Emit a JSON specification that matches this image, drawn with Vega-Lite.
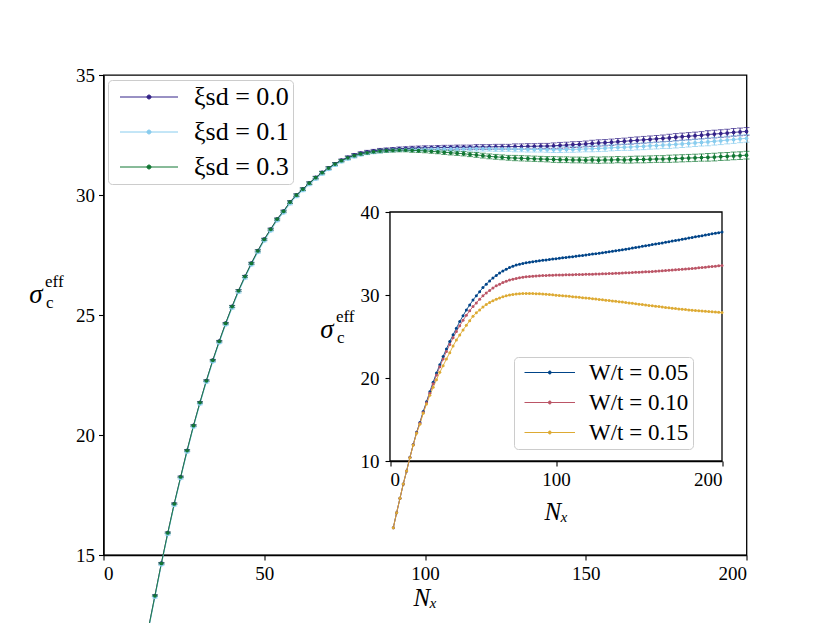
{
  "$schema": "https://vega.github.io/schema/vega-lite/v6.json",
  "width": 643,
  "height": 480,
  "autosize": "none",
  "padding": {"left": 103.5, "top": 75, "right": 83.5, "bottom": 68},
  "config": {
    "font": "Liberation Serif",
    "view": {"stroke": "black", "strokeWidth": 1.3},
    "axis": {
      "grid": false, "domainColor": "black", "domainWidth": 1.3, "tickColor": "black", "tickWidth": 1.1, "tickSize": 5,
      "labelColor": "black", "titleColor": "black", "labelFont": "Liberation Serif", "titleFont": "Liberation Serif",
      "titleFontWeight": "normal", "labelPadding": 4
    },
    "legend": {"labelFont": "Liberation Serif", "labelColor": "black", "symbolOpacity": 1}
  },
  "layer": [
    {
      "data": {"name": "main", "values": [
        {"x":12,"e":0.03,"a":10.61,"b":10.54,"c":10.6},
        {"x":14,"e":0.03,"a":11.96,"b":11.89,"c":11.95},
        {"x":16,"e":0.03,"a":13.31,"b":13.24,"c":13.3},
        {"x":18,"e":0.03,"a":14.66,"b":14.59,"c":14.65},
        {"x":20,"e":0.03,"a":15.93,"b":15.86,"c":15.92},
        {"x":22,"e":0.03,"a":17.14,"b":17.07,"c":17.13},
        {"x":24,"e":0.03,"a":18.26,"b":18.19,"c":18.25},
        {"x":26,"e":0.03,"a":19.36,"b":19.29,"c":19.35},
        {"x":28,"e":0.03,"a":20.4,"b":20.33,"c":20.39},
        {"x":30,"e":0.03,"a":21.36,"b":21.29,"c":21.35},
        {"x":32,"e":0.03,"a":22.27,"b":22.2,"c":22.26},
        {"x":34,"e":0.03,"a":23.12,"b":23.05,"c":23.11},
        {"x":36,"e":0.03,"a":23.91,"b":23.84,"c":23.9},
        {"x":38,"e":0.03,"a":24.66,"b":24.59,"c":24.65},
        {"x":40,"e":0.04,"a":25.36,"b":25.29,"c":25.35},
        {"x":42,"e":0.04,"a":26.02,"b":25.95,"c":26.01},
        {"x":44,"e":0.04,"a":26.61,"b":26.54,"c":26.6},
        {"x":46,"e":0.04,"a":27.16,"b":27.09,"c":27.15},
        {"x":48,"e":0.04,"a":27.68,"b":27.61,"c":27.67},
        {"x":50,"e":0.04,"a":28.16,"b":28.09,"c":28.15},
        {"x":52,"e":0.04,"a":28.58,"b":28.51,"c":28.57},
        {"x":54,"e":0.04,"a":29.0,"b":28.93,"c":28.99},
        {"x":56,"e":0.04,"a":29.33,"b":29.26,"c":29.32},
        {"x":58,"e":0.05,"a":29.71,"b":29.64,"c":29.7},
        {"x":60,"e":0.05,"a":30.0,"b":29.94,"c":29.99},
        {"x":62,"e":0.05,"a":30.25,"b":30.19,"c":30.24},
        {"x":64,"e":0.05,"a":30.5,"b":30.44,"c":30.49},
        {"x":66,"e":0.05,"a":30.73,"b":30.67,"c":30.72},
        {"x":68,"e":0.05,"a":30.94,"b":30.88,"c":30.93},
        {"x":70,"e":0.05,"a":31.13,"b":31.07,"c":31.12},
        {"x":72,"e":0.05,"a":31.3,"b":31.24,"c":31.29},
        {"x":74,"e":0.05,"a":31.45,"b":31.39,"c":31.43},
        {"x":76,"e":0.06,"a":31.57,"b":31.51,"c":31.55},
        {"x":78,"e":0.06,"a":31.67,"b":31.6,"c":31.64},
        {"x":80,"e":0.06,"a":31.74,"b":31.68,"c":31.71},
        {"x":82,"e":0.06,"a":31.8,"b":31.74,"c":31.76},
        {"x":84,"e":0.06,"a":31.84,"b":31.78,"c":31.8},
        {"x":86,"e":0.07,"a":31.87,"b":31.82,"c":31.83},
        {"x":88,"e":0.07,"a":31.89,"b":31.85,"c":31.85},
        {"x":90,"e":0.07,"a":31.91,"b":31.87,"c":31.86},
        {"x":92,"e":0.07,"a":31.93,"b":31.88,"c":31.87},
        {"x":94,"e":0.07,"a":31.94,"b":31.89,"c":31.87},
        {"x":96,"e":0.08,"a":31.95,"b":31.9,"c":31.86},
        {"x":98,"e":0.08,"a":31.96,"b":31.9,"c":31.85},
        {"x":100,"e":0.08,"a":31.97,"b":31.91,"c":31.84},
        {"x":102,"e":0.08,"a":31.97,"b":31.91,"c":31.82},
        {"x":104,"e":0.08,"a":31.98,"b":31.92,"c":31.8},
        {"x":106,"e":0.09,"a":31.98,"b":31.92,"c":31.78},
        {"x":108,"e":0.09,"a":31.98,"b":31.92,"c":31.76},
        {"x":110,"e":0.09,"a":31.99,"b":31.92,"c":31.74},
        {"x":112,"e":0.09,"a":31.99,"b":31.92,"c":31.72},
        {"x":114,"e":0.09,"a":31.99,"b":31.93,"c":31.69},
        {"x":116,"e":0.1,"a":32.0,"b":31.93,"c":31.67},
        {"x":118,"e":0.1,"a":32.0,"b":31.93,"c":31.64},
        {"x":120,"e":0.1,"a":32.0,"b":31.93,"c":31.61},
        {"x":122,"e":0.1,"a":32.01,"b":31.92,"c":31.59},
        {"x":124,"e":0.1,"a":32.01,"b":31.92,"c":31.57},
        {"x":126,"e":0.1,"a":32.01,"b":31.92,"c":31.55},
        {"x":128,"e":0.11,"a":32.02,"b":31.91,"c":31.54},
        {"x":130,"e":0.11,"a":32.02,"b":31.91,"c":31.53},
        {"x":132,"e":0.11,"a":32.03,"b":31.9,"c":31.52},
        {"x":134,"e":0.11,"a":32.03,"b":31.9,"c":31.51},
        {"x":136,"e":0.11,"a":32.04,"b":31.9,"c":31.5},
        {"x":138,"e":0.11,"a":32.04,"b":31.89,"c":31.49},
        {"x":140,"e":0.12,"a":32.05,"b":31.89,"c":31.48},
        {"x":142,"e":0.12,"a":32.07,"b":31.89,"c":31.47},
        {"x":144,"e":0.12,"a":32.08,"b":31.9,"c":31.47},
        {"x":146,"e":0.12,"a":32.1,"b":31.9,"c":31.46},
        {"x":148,"e":0.12,"a":32.11,"b":31.91,"c":31.46},
        {"x":150,"e":0.12,"a":32.13,"b":31.92,"c":31.45},
        {"x":152,"e":0.13,"a":32.15,"b":31.93,"c":31.46},
        {"x":154,"e":0.13,"a":32.17,"b":31.94,"c":31.45},
        {"x":156,"e":0.13,"a":32.18,"b":31.95,"c":31.46},
        {"x":158,"e":0.13,"a":32.2,"b":31.97,"c":31.46},
        {"x":160,"e":0.13,"a":32.22,"b":31.98,"c":31.47},
        {"x":162,"e":0.13,"a":32.24,"b":31.99,"c":31.46},
        {"x":164,"e":0.14,"a":32.26,"b":32.0,"c":31.47},
        {"x":166,"e":0.14,"a":32.28,"b":32.02,"c":31.48},
        {"x":168,"e":0.14,"a":32.3,"b":32.03,"c":31.48},
        {"x":170,"e":0.14,"a":32.32,"b":32.05,"c":31.49},
        {"x":172,"e":0.14,"a":32.34,"b":32.06,"c":31.5},
        {"x":174,"e":0.14,"a":32.36,"b":32.08,"c":31.5},
        {"x":176,"e":0.15,"a":32.38,"b":32.09,"c":31.51},
        {"x":178,"e":0.15,"a":32.41,"b":32.11,"c":31.52},
        {"x":180,"e":0.15,"a":32.43,"b":32.13,"c":31.53},
        {"x":182,"e":0.15,"a":32.45,"b":32.15,"c":31.54},
        {"x":184,"e":0.15,"a":32.47,"b":32.17,"c":31.55},
        {"x":186,"e":0.15,"a":32.49,"b":32.19,"c":31.56},
        {"x":188,"e":0.16,"a":32.52,"b":32.21,"c":31.57},
        {"x":190,"e":0.16,"a":32.54,"b":32.24,"c":31.58},
        {"x":192,"e":0.16,"a":32.56,"b":32.26,"c":31.6},
        {"x":194,"e":0.16,"a":32.58,"b":32.29,"c":31.61},
        {"x":196,"e":0.16,"a":32.61,"b":32.31,"c":31.63},
        {"x":198,"e":0.16,"a":32.63,"b":32.34,"c":31.64},
        {"x":200,"e":0.16,"a":32.65,"b":32.36,"c":31.66}
      ]},
      "transform": [{"fold": ["a", "b", "c"], "as": ["s", "y"]}],
      "layer": [
        {
          "mark": {"type": "errorbar", "ticks": {"size": 6}, "thickness": 1},
          "encoding": {
            "x": {"field": "x", "type": "quantitative", "title": "Nₓ", "scale": {"domain": [0, 200], "nice": false}},
            "y": {"field": "y", "type": "quantitative", "title": null, "scale": {"domain": [15, 35], "nice": false, "zero": false}},
            "yError": {"field": "e"},
            "color": {"field": "s", "type": "nominal", "scale": {"domain": ["a", "b", "c"], "range": ["#332288", "#88CCEE", "#117733"]}}
          }
        },
        {
          "mark": {"type": "line", "strokeWidth": 0.9, "point": {"filled": true, "size": 14}},
          "encoding": {
            "x": {"field": "x", "type": "quantitative", "title": "Nₓ", "scale": {"domain": [0, 200], "nice": false},
              "axis": {"values": [0, 50, 100, 150, 200], "labelFont": "Liberation Serif", "labelFontSize": 19, "titleFont": "Liberation Serif", "titleFontSize": 25, "titleFontStyle": "italic", "titlePadding": 2}},
            "y": {"field": "y", "type": "quantitative", "title": null, "scale": {"domain": [15, 35], "nice": false, "zero": false},
              "axis": {"values": [15, 20, 25, 30, 35], "labelFont": "Liberation Serif", "labelFontSize": 19}},
            "color": {"field": "s", "type": "nominal", "scale": {"domain": ["a", "b", "c"], "range": ["#332288", "#88CCEE", "#117733"]},
              "legend": {
                "title": null, "orient": "none", "legendX": 4.5, "legendY": 5,
                "labelExpr": "datum.label == 'a' ? 'ξsd = 0.0' : datum.label == 'b' ? 'ξsd = 0.1' : 'ξsd = 0.3'",
                "labelFont": "Liberation Serif", "labelFontSize": 26, "labelOffset": 56, "rowPadding": 9,
                "symbolType": "M-1,0L10.6,0M4.4,0A0.4,0.4,0,1,0,5.2,0A0.4,0.4,0,1,0,4.4,0",
                "symbolSize": 100, "symbolStrokeWidth": 1, "symbolOpacity": 1,
                "fillColor": "white", "strokeColor": "#cccccc", "cornerRadius": 4, "padding": 4
              }}
          }
        },
        {
          "data": {"values": [{}]},
          "mark": {"type": "text", "text": "σ", "font": "Liberation Serif", "fontStyle": "italic", "fontSize": 27, "align": "center", "baseline": "alphabetic", "color": "black"},
          "encoding": {"x": {"datum": -21, "type": "quantitative"}, "y": {"datum": 25.5, "type": "quantitative"}}
        },
        {
          "data": {"values": [{}]},
          "mark": {"type": "text", "text": "eff", "font": "Liberation Serif", "fontSize": 17, "align": "left", "baseline": "alphabetic", "dx": 9, "dy": -16, "color": "black"},
          "encoding": {"x": {"datum": -21, "type": "quantitative"}, "y": {"datum": 25.5, "type": "quantitative"}}
        },
        {
          "data": {"values": [{}]},
          "mark": {"type": "text", "text": "c", "font": "Liberation Serif", "fontSize": 17, "align": "left", "baseline": "alphabetic", "dx": 10, "dy": 5, "color": "black"},
          "encoding": {"x": {"datum": -21, "type": "quantitative"}, "y": {"datum": 25.5, "type": "quantitative"}}
        }
      ]
    },
    {
      "data": {"name": "inset", "values": [
        {"x":2,"a":1.97,"b":1.97,"c":1.97},
        {"x":4,"a":3.77,"b":3.77,"c":3.77},
        {"x":6,"a":5.5,"b":5.5,"c":5.5},
        {"x":8,"a":7.23,"b":7.23,"c":7.23},
        {"x":10,"a":8.8,"b":8.8,"c":8.8},
        {"x":12,"a":10.45,"b":10.42,"c":10.4},
        {"x":14,"a":11.98,"b":11.95,"c":11.93},
        {"x":16,"a":13.45,"b":13.39,"c":13.33},
        {"x":18,"a":14.65,"b":14.56,"c":14.42},
        {"x":20,"a":15.95,"b":15.83,"c":15.74},
        {"x":22,"a":17.15,"b":17.02,"c":16.87},
        {"x":24,"a":18.35,"b":18.17,"c":17.91},
        {"x":26,"a":19.5,"b":19.3,"c":18.88},
        {"x":28,"a":20.6,"b":20.35,"c":19.8},
        {"x":30,"a":21.6,"b":21.35,"c":20.68},
        {"x":32,"a":22.6,"b":22.3,"c":21.48},
        {"x":34,"a":23.5,"b":23.2,"c":22.29},
        {"x":36,"a":24.4,"b":24.05,"c":23.05},
        {"x":38,"a":25.2,"b":24.85,"c":23.86},
        {"x":40,"a":26.0,"b":25.6,"c":24.58},
        {"x":42,"a":26.8,"b":26.3,"c":25.18},
        {"x":44,"a":27.5,"b":26.95,"c":25.78},
        {"x":46,"a":28.2,"b":27.55,"c":26.35},
        {"x":48,"a":28.8,"b":28.1,"c":26.9},
        {"x":50,"a":29.4,"b":28.6,"c":27.45},
        {"x":52,"a":29.9,"b":29.05,"c":27.85},
        {"x":54,"a":30.4,"b":29.5,"c":28.2},
        {"x":56,"a":30.9,"b":29.9,"c":28.55},
        {"x":58,"a":31.3,"b":30.25,"c":28.85},
        {"x":60,"a":31.7,"b":30.55,"c":29.1},
        {"x":62,"a":32.05,"b":30.85,"c":29.3},
        {"x":64,"a":32.35,"b":31.1,"c":29.5},
        {"x":66,"a":32.65,"b":31.3,"c":29.65},
        {"x":68,"a":32.9,"b":31.5,"c":29.78},
        {"x":70,"a":33.1,"b":31.65,"c":29.9},
        {"x":72,"a":33.3,"b":31.8,"c":30.0},
        {"x":74,"a":33.45,"b":31.9,"c":30.07},
        {"x":76,"a":33.6,"b":32.0,"c":30.12},
        {"x":78,"a":33.7,"b":32.08,"c":30.16},
        {"x":80,"a":33.8,"b":32.15,"c":30.18},
        {"x":82,"a":33.88,"b":32.2,"c":30.19},
        {"x":84,"a":33.95,"b":32.24,"c":30.19},
        {"x":86,"a":34.02,"b":32.27,"c":30.18},
        {"x":88,"a":34.08,"b":32.3,"c":30.16},
        {"x":90,"a":34.13,"b":32.32,"c":30.14},
        {"x":92,"a":34.18,"b":32.34,"c":30.12},
        {"x":94,"a":34.23,"b":32.35,"c":30.09},
        {"x":96,"a":34.28,"b":32.37,"c":30.06},
        {"x":98,"a":34.33,"b":32.38,"c":30.02},
        {"x":100,"a":34.38,"b":32.4,"c":29.98},
        {"x":102,"a":34.43,"b":32.41,"c":29.95},
        {"x":104,"a":34.48,"b":32.42,"c":29.91},
        {"x":106,"a":34.53,"b":32.43,"c":29.88},
        {"x":108,"a":34.58,"b":32.44,"c":29.84},
        {"x":110,"a":34.62,"b":32.45,"c":29.8},
        {"x":112,"a":34.67,"b":32.46,"c":29.76},
        {"x":114,"a":34.72,"b":32.47,"c":29.72},
        {"x":116,"a":34.77,"b":32.48,"c":29.68},
        {"x":118,"a":34.82,"b":32.49,"c":29.64},
        {"x":120,"a":34.88,"b":32.5,"c":29.6},
        {"x":122,"a":34.93,"b":32.51,"c":29.56},
        {"x":124,"a":34.98,"b":32.53,"c":29.51},
        {"x":126,"a":35.03,"b":32.54,"c":29.47},
        {"x":128,"a":35.09,"b":32.55,"c":29.42},
        {"x":130,"a":35.15,"b":32.57,"c":29.38},
        {"x":132,"a":35.21,"b":32.58,"c":29.33},
        {"x":134,"a":35.27,"b":32.6,"c":29.29},
        {"x":136,"a":35.33,"b":32.61,"c":29.24},
        {"x":138,"a":35.39,"b":32.63,"c":29.2},
        {"x":140,"a":35.45,"b":32.65,"c":29.15},
        {"x":142,"a":35.52,"b":32.67,"c":29.1},
        {"x":144,"a":35.58,"b":32.69,"c":29.05},
        {"x":146,"a":35.65,"b":32.71,"c":29.0},
        {"x":148,"a":35.72,"b":32.73,"c":28.95},
        {"x":150,"a":35.79,"b":32.75,"c":28.9},
        {"x":152,"a":35.86,"b":32.77,"c":28.85},
        {"x":154,"a":35.93,"b":32.79,"c":28.8},
        {"x":156,"a":36.0,"b":32.81,"c":28.75},
        {"x":158,"a":36.07,"b":32.83,"c":28.7},
        {"x":160,"a":36.14,"b":32.85,"c":28.65},
        {"x":162,"a":36.21,"b":32.88,"c":28.6},
        {"x":164,"a":36.28,"b":32.91,"c":28.55},
        {"x":166,"a":36.35,"b":32.94,"c":28.5},
        {"x":168,"a":36.42,"b":32.97,"c":28.45},
        {"x":170,"a":36.5,"b":33.0,"c":28.4},
        {"x":172,"a":36.57,"b":33.03,"c":28.36},
        {"x":174,"a":36.64,"b":33.06,"c":28.32},
        {"x":176,"a":36.72,"b":33.09,"c":28.28},
        {"x":178,"a":36.79,"b":33.12,"c":28.24},
        {"x":180,"a":36.86,"b":33.15,"c":28.2},
        {"x":182,"a":36.94,"b":33.19,"c":28.17},
        {"x":184,"a":37.01,"b":33.23,"c":28.13},
        {"x":186,"a":37.08,"b":33.27,"c":28.1},
        {"x":188,"a":37.15,"b":33.31,"c":28.07},
        {"x":190,"a":37.22,"b":33.35,"c":28.03},
        {"x":192,"a":37.3,"b":33.39,"c":28.0},
        {"x":194,"a":37.37,"b":33.43,"c":27.97},
        {"x":196,"a":37.44,"b":33.47,"c":27.94},
        {"x":198,"a":37.51,"b":33.51,"c":27.91},
        {"x":200,"a":37.58,"b":33.55,"c":27.88}
      ]},
      "transform": [{"fold": ["a", "b", "c"], "as": ["s", "y"]}],
      "layer": [
        {
          "data": {"values": [{}]},
          "mark": {"type": "rect", "fill": "white", "stroke": "black", "strokeWidth": 1.3},
          "encoding": {
            "x": {"datum": 0, "type": "quantitative", "scale": {"domain": [0, 200], "nice": false, "range": [286.5, 618.5]}},
            "x2": {"datum": 200},
            "y": {"datum": 10, "type": "quantitative", "scale": {"domain": [10, 40], "nice": false, "zero": false, "range": [386, 137]}},
            "y2": {"datum": 40}
          }
        },
        {
          "mark": {"type": "line", "strokeWidth": 0.9, "point": {"filled": true, "size": 9}},
          "encoding": {
            "x": {"field": "x", "type": "quantitative", "title": "Nₓ", "scale": {"domain": [0, 200], "nice": false, "range": [286.5, 618.5]},
              "axis": {"orient": "bottom", "offset": -94, "values": [0, 100, 200], "labelFont": "Liberation Serif", "labelFontSize": 19, "titleFont": "Liberation Serif", "titleFontSize": 25, "titleFontStyle": "italic", "titlePadding": 10}},
            "y": {"field": "y", "type": "quantitative", "title": null, "scale": {"domain": [10, 40], "nice": false, "zero": false, "range": [386, 137]},
              "axis": {"orient": "left", "offset": -286.5, "values": [10, 20, 30, 40], "labelFont": "Liberation Serif", "labelFontSize": 19, "labelPadding": 6}},
            "color": {"field": "s", "type": "nominal", "scale": {"domain": ["a", "b", "c"], "range": ["#004488", "#BB5566", "#DDAA33"]},
              "legend": {
                "title": null, "orient": "none", "legendX": 410.5, "legendY": 282,
                "labelExpr": "datum.label == 'a' ? 'W/t = 0.05' : datum.label == 'b' ? 'W/t = 0.10' : 'W/t = 0.15'",
                "labelFont": "Liberation Serif", "labelFontSize": 23, "labelOffset": 48, "rowPadding": 6,
                "symbolType": "M-1,0L9.1,0M3.76,0A0.3,0.3,0,1,0,4.36,0A0.3,0.3,0,1,0,3.76,0",
                "symbolSize": 100, "symbolStrokeWidth": 1, "symbolOpacity": 1,
                "fillColor": "white", "strokeColor": "#cccccc", "cornerRadius": 4, "padding": 4
              }}
          }
        },
        {
          "data": {"values": [{}]},
          "mark": {"type": "text", "text": "σ", "font": "Liberation Serif", "fontStyle": "italic", "fontSize": 27, "align": "center", "baseline": "alphabetic", "color": "black"},
          "encoding": {"x": {"datum": -38, "type": "quantitative"}, "y": {"datum": 24.8, "type": "quantitative"}}
        },
        {
          "data": {"values": [{}]},
          "mark": {"type": "text", "text": "eff", "font": "Liberation Serif", "fontSize": 17, "align": "left", "baseline": "alphabetic", "dx": 9, "dy": -16, "color": "black"},
          "encoding": {"x": {"datum": -38, "type": "quantitative"}, "y": {"datum": 24.8, "type": "quantitative"}}
        },
        {
          "data": {"values": [{}]},
          "mark": {"type": "text", "text": "c", "font": "Liberation Serif", "fontSize": 17, "align": "left", "baseline": "alphabetic", "dx": 10, "dy": 5, "color": "black"},
          "encoding": {"x": {"datum": -38, "type": "quantitative"}, "y": {"datum": 24.8, "type": "quantitative"}}
        }
      ]
    }
  ],
  "resolve": {"scale": {"x": "independent", "y": "independent", "color": "independent"}}
}
